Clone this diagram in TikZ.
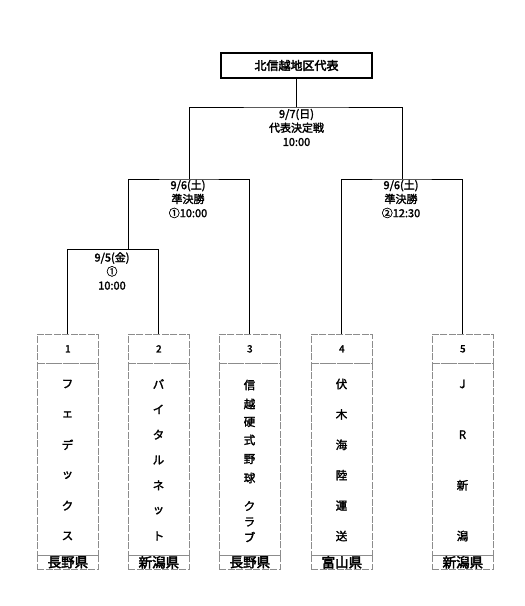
\documentclass[tikz,border=0pt]{standalone}
\usepackage{fontspec}
\newfontfamily\jp[AutoFakeBold=2]{Noto Sans CJK JP}
\newfontfamily\jpb[AutoFakeBold=3]{Noto Sans CJK JP}
\begin{document}
\begin{tikzpicture}[x=1pt,y=-1pt,
  line/.style={black,line width=0.9pt},
  cell/.style={draw=black!45,dashed,dash pattern=on 7pt off 1.5pt,line width=0.7pt,inner sep=0pt,anchor=north west},
  namech/.style={font=\jp\bfseries\fontsize{11.5}{12}\selectfont,inner sep=0pt},
  lab/.style={font=\jp\bfseries\fontsize{11}{14}\selectfont,align=center,inner sep=0pt},
  numtxt/.style={font=\jp\bfseries\fontsize{10}{10}\selectfont,inner sep=0pt},
  preftxt/.style={font=\jpb\bfseries\fontsize{13.5}{12}\selectfont,inner sep=0pt}]
\useasboundingbox (0,0) rectangle (525,606);
% title
\node[draw,line width=2pt,minimum width=151pt,minimum height=25pt,inner sep=0pt,font=\jpb\bfseries\fontsize{12}{12}\selectfont] (title) at (296.5,65.5) {北信越地区代表};
% team boxes
\foreach \k/\x in {1/37,2/128,3/219,4/311,5/432}{
  \node[cell,minimum width=61pt,minimum height=29pt] (n\k) at (\x,334) {};
  \node[cell,minimum width=61pt,minimum height=192pt] (b\k) at (\x,363) {};
  \node[cell,minimum width=61pt,minimum height=14pt] (p\k) at (\x,555) {};
  \node[numtxt] (t\k) at (n\k.center) {\k};
}
\node[preftxt] (q1) at (p1.center) {長野県};
\node[preftxt] (q2) at (p2.center) {新潟県};
\node[preftxt] (q3) at (p3.center) {長野県};
\node[preftxt] (q4) at (p4.center) {富山県};
\node[preftxt] (q5) at (p5.center) {新潟県};
% names
\foreach \ch [count=\i] in {フ,ェ,デ,ッ,ク,ス}
  \node[namech] (a\i) at (67.5,{384+(\i-1)*152/5}) {\ch};
\foreach \ch [count=\i] in {バ,イ,タ,ル,ネ,ッ,ト}
  \node[namech] (c\i) at (158.5,{384+(\i-1)*152/6}) {\ch};
\foreach \ch/\y [count=\i] in {信/385,越/404,硬/422,式/440,野/459,球/478,ク/506,ラ/522,ブ/537}
  \node[namech] (d\i) at (249.5,\y) {\ch};
\foreach \ch [count=\i] in {伏,木,海,陸,運,送}
  \node[namech] (e\i) at (341.5,{384+(\i-1)*152/5}) {\ch};
\foreach \ch [count=\i] in {J,R,新,潟}
  \node[namech] (g\i) at (462.5,{384+(\i-1)*152/3}) {\ch};
% bracket points
\coordinate (m1) at (128,249);
\coordinate (s1) at (189,179);
\coordinate (s2) at (402,179);
\coordinate (f) at (296.5,107);
\draw[line] (n1.north) -- (n1.north |- m1) -- (n2.north |- m1) -- (n2.north);
\draw[line] (m1) |- (s1) -| (n3.north);
\draw[line] (n4.north) |- (s2) -| (n5.north);
\draw[line] (s1) |- (f) -| (s2);
\draw[line] (f) -- (title.south);
% labels
\node[lab] (lf) at (296.5,127.5) {9/7(日)\\代表決定戦\\10:00};
\node[lab] (ls1) at (188,199) {9/6(土)\\準決勝\\①10:00};
\node[lab] (ls2) at (401,199) {9/6(土)\\準決勝\\②12:30};
\node[lab] (lm1) at (112,271) {9/5(金)\\①\\10:00};
\end{tikzpicture}
\end{document}
